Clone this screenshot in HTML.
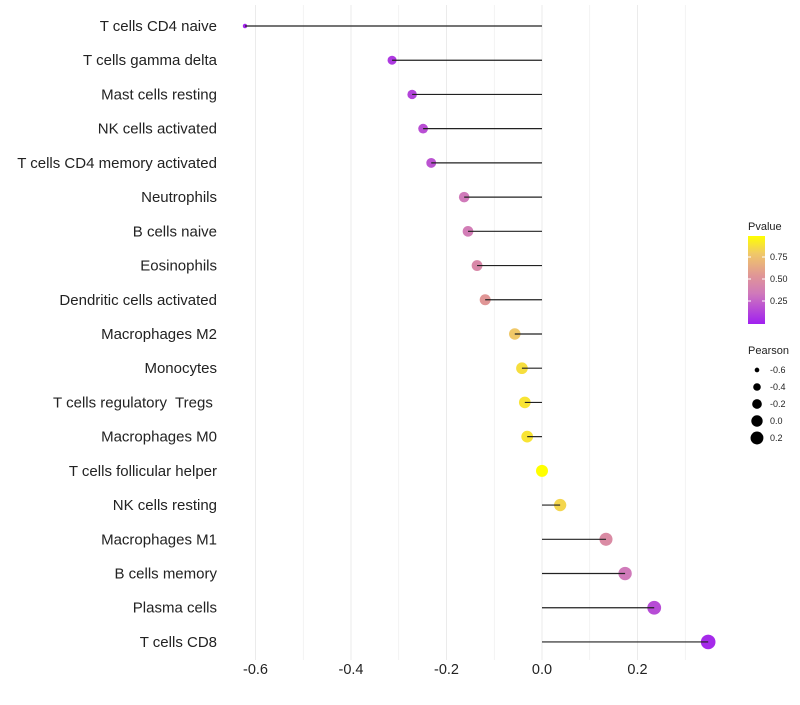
<!DOCTYPE html>
<html><head><meta charset="utf-8"><style>
body{margin:0;background:#fff;font-family:"Liberation Sans",sans-serif}
</style></head><body>
<svg id="c" width="800" height="700" xmlns="http://www.w3.org/2000/svg" font-family="Liberation Sans, sans-serif"></svg>
<script>
const categories=["T cells CD4 naive","T cells gamma delta","Mast cells resting","NK cells activated","T cells CD4 memory activated","Neutrophils","B cells naive","Eosinophils","Dendritic cells activated","Macrophages M2","Monocytes","T cells regulatory  Tregs ","Macrophages M0","T cells follicular helper","NK cells resting","Macrophages M1","B cells memory","Plasma cells","T cells CD8"];
const pearson=[-0.622,-0.314,-0.272,-0.249,-0.232,-0.163,-0.155,-0.136,-0.119,-0.057,-0.042,-0.036,-0.031,0.0,0.038,0.134,0.174,0.235,0.348];
const pvalue=[0.02,0.1,0.14,0.18,0.2,0.35,0.37,0.45,0.55,0.8,0.88,0.9,0.9,1.0,0.85,0.47,0.35,0.17,0.04];
const xTicks=[-0.6,-0.4,-0.2,0.0,0.2];
const xTickLabels=["-0.6","-0.4","-0.2","0.0","0.2"];
const legendP=[0.75,0.5,0.25];
const legendSizes=[-0.6,-0.4,-0.2,0.0,0.2];
const NS="http://www.w3.org/2000/svg",svg=document.getElementById('c');
function X(v){return 542+v*477.5;}
function Y(i){return 26+i*34.22;}
function R(v){return Math.sqrt(Math.max(1.5,36+50*v));}
const stops=[[0,[160,32,240]],[0.35,[208,122,186]],[0.55,[224,150,150]],[0.8,[240,200,104]],[1,[255,255,0]]];
function col(p){for(let k=1;k<stops.length;k++){if(p<=stops[k][0]){const a=stops[k-1],b=stops[k],t=(p-a[0])/(b[0]-a[0]);return 'rgb('+a[1].map((c,j)=>Math.round(c+(b[1][j]-c)*t)).join(',')+')';}}return 'rgb(255,255,0)';}
function el(t,a,p){const e=document.createElementNS(NS,t);for(const k in a)e.setAttribute(k,a[k]);(p||svg).appendChild(e);return e;}
const grid=el('g',{});


for(let v=-0.6;v<=0.31;v+=0.1){el('line',{x1:X(v),x2:X(v),y1:5,y2:660,stroke:'#ebebeb','stroke-width':Math.abs(Math.round(v*10))%2==0?1:0.6},grid);}
xTicks.forEach((v,i)=>{const t=el('text',{x:X(v),y:674,'text-anchor':'middle','font-size':14.5,fill:'#222'});t.textContent=xTickLabels[i];

});
categories.forEach((c,i)=>{
const t=el('text',{x:217,y:Y(i)+5,'text-anchor':'end','font-size':15,fill:'#222'});t.textContent=c;
t.setAttribute('xml:space','preserve');t.style.whiteSpace='pre';


const p=el('circle',{cx:X(pearson[i]),cy:Y(i),r:R(pearson[i]),fill:col(pvalue[i])});


const l=el('line',{x1:X(pearson[i]),x2:X(0),y1:Y(i),y2:Y(i),stroke:'#222','stroke-width':1.2});


});
const lt=el('text',{x:748,y:230,'font-size':11,fill:'#222'});lt.textContent='Pvalue';


const defs=el('defs',{});const lg=el('linearGradient',{id:'g',x1:0,y1:1,x2:0,y2:0},defs);
stops.forEach(s=>el('stop',{offset:s[0],'stop-color':'rgb('+s[1].join(',')+')'},lg));
const bar=el('rect',{x:748,y:236,width:17,height:88,fill:'url(#g)'});


legendP.forEach(p=>{const y=323-p*88;el('line',{x1:748,x2:751,y1:y,y2:y,stroke:'#fff'});el('line',{x1:762,x2:765,y1:y,y2:y,stroke:'#fff'});
const t=el('text',{x:770,y:y+3,'font-size':9,fill:'#222'});t.textContent=p.toFixed(2);

});
const st=el('text',{x:748,y:354,'font-size':11,fill:'#222'});st.textContent='Pearson';


legendSizes.forEach((v,i)=>{const y=370+i*17;el('circle',{cx:757,cy:y,r:R(v)*0.95,fill:'#000'});
const t=el('text',{x:770,y:y+3,'font-size':9,fill:'#222'});t.textContent=v.toFixed(1);

});
</script>
</body></html>
